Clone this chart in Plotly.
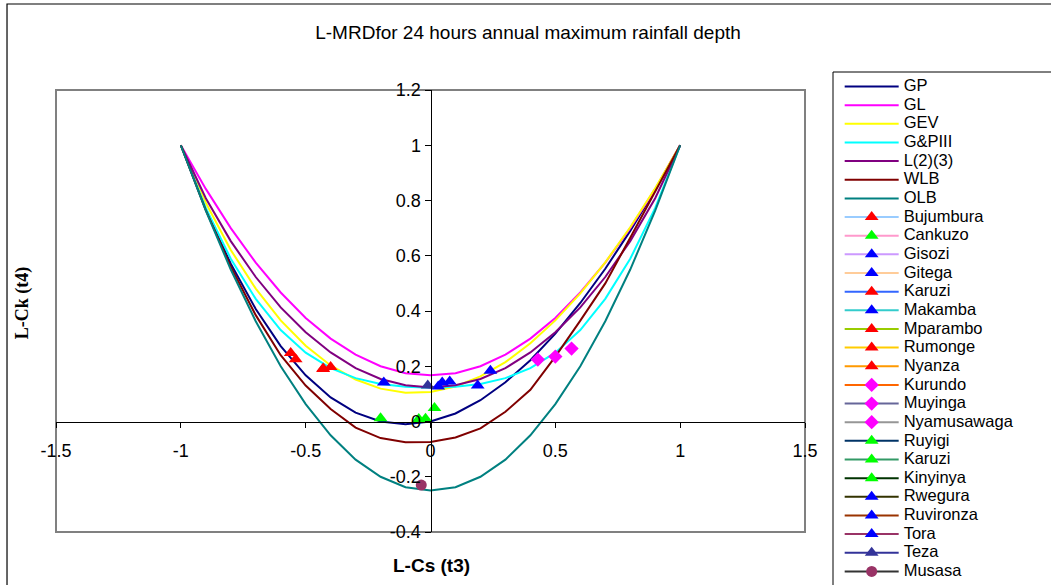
import plotly.graph_objects as go

# L-skewness grid for the theoretical curves
tau3 = [-1.0, -0.9, -0.8, -0.7, -0.6, -0.5, -0.4, -0.3, -0.2, -0.1, 0.0,
        0.1, 0.2, 0.3, 0.4, 0.5, 0.6, 0.7, 0.8, 0.9, 1.0]

# L-kurtosis of each distribution along the grid
gp = [1.000, 0.768, 0.571, 0.407, 0.273, 0.167, 0.087, 0.032, 0.000, -0.010, 0.000,
      0.029, 0.077, 0.142, 0.222, 0.318, 0.429, 0.553, 0.690, 0.839, 1.000]
gl = [1.000, 0.842, 0.700, 0.575, 0.467, 0.375, 0.300, 0.242, 0.200, 0.175, 0.167,
      0.175, 0.200, 0.242, 0.300, 0.375, 0.467, 0.575, 0.700, 0.842, 1.000]
gev = [1.000, 0.792, 0.621, 0.481, 0.366, 0.274, 0.203, 0.152, 0.119, 0.104, 0.107,
       0.127, 0.163, 0.215, 0.283, 0.366, 0.464, 0.576, 0.703, 0.844, 1.000]
gp3 = [1.000, 0.773, 0.589, 0.444, 0.331, 0.249, 0.193, 0.157, 0.136, 0.126, 0.122,
       0.126, 0.136, 0.157, 0.193, 0.249, 0.331, 0.444, 0.589, 0.773, 1.000]
ln3 = [1.000, 0.808, 0.653, 0.523, 0.413, 0.323, 0.250, 0.193, 0.154, 0.131, 0.123,
       0.131, 0.154, 0.193, 0.250, 0.323, 0.413, 0.523, 0.653, 0.808, 1.000]
wlb = [1.000, 0.765, 0.560, 0.385, 0.240, 0.130, 0.045, -0.022, -0.060, -0.075, -0.074,
       -0.058, -0.025, 0.035, 0.115, 0.235, 0.365, 0.500, 0.665, 0.830, 1.000]
olb = [1.000, 0.763, 0.550, 0.363, 0.200, 0.063, -0.050, -0.138, -0.200, -0.238, -0.250,
       -0.238, -0.200, -0.138, -0.050, 0.063, 0.200, 0.363, 0.550, 0.763, 1.000]

curve_names = ["GP", "GL", "GEV", "G&PIII", "L(2)(3)", "WLB", "OLB"]
curve_values = [gp, gl, gev, gp3, ln3, wlb, olb]
curve_colors = ["#000080", "#FF00FF", "#FFFF00", "#00FFFF", "#800080", "#800000", "#008080"]

# Sample L-moment ratios of the stations
stations = ["Bujumbura", "Cankuzo", "Gisozi", "Gitega", "Karuzi", "Makamba", "Mparambo",
            "Rumonge", "Nyanza", "Kurundo", "Muyinga", "Nyamusawaga", "Ruyigi", "Karuzi",
            "Kinyinya", "Rwegura", "Ruvironza", "Tora", "Teza", "Musasa"]
station_t3 = [-0.560, -0.200, -0.187, 0.031, -0.540, 0.047, -0.430,
              -0.400, -0.430, 0.430, 0.500, 0.565, -0.047, -0.020,
              0.016, 0.077, 0.189, 0.240, -0.011, -0.037]
station_t4 = [0.248, 0.012, 0.141, 0.127, 0.225, 0.141, 0.190,
              0.197, 0.192, 0.224, 0.235, 0.264, 0.009, 0.010,
              0.049, 0.145, 0.130, 0.184, 0.130, -0.230]
station_line = ["#99CCFF", "#FF99CC", "#CC99FF", "#FFCC99", "#3366FF", "#33CCCC", "#99CC00",
                "#FFCC00", "#FF9900", "#FF6600", "#666699", "#969696", "#003366", "#339966",
                "#003300", "#333300", "#993300", "#993366", "#333399", "#333333"]
station_marker = ["#FF0000", "#00FF00", "#0000FF", "#0000FF", "#FF0000", "#0000FF", "#FF0000",
                  "#FF0000", "#FF0000", "#FF00FF", "#FF00FF", "#FF00FF", "#00FF00", "#00FF00",
                  "#00FF00", "#0000FF", "#0000FF", "#0000FF", "#333399", "#993366"]
station_symbol = ["triangle-up"] * 9 + ["diamond"] * 3 + ["triangle-up"] * 7 + ["circle"]

x_ticks = [-1.5, -1.0, -0.5, 0.0, 0.5, 1.0, 1.5]
x_ticktext = ["-1.5", "-1", "-0.5", "0", "0.5", "1", "1.5"]
y_ticks = [-0.4, -0.2, 0.0, 0.2, 0.4, 0.6, 0.8, 1.0, 1.2]
y_ticktext = ["-0.4", "-0.2", "0", "0.2", "0.4", "0.6", "0.8", "1", "1.2"]

FONT = "Liberation Sans, Arial, sans-serif"

# The key is built from one single-row legend per series, stacked at a fixed
# row pitch inside one shared frame.
PLOT_TOP_PX, PLOT_BOTTOM_PX = 90.0, 532.0
KEY_TOP_PX, KEY_ROW_PX = 72.0, 18.65


def legend_label(text):
    return '<span style="font-size:16.5px">' + text + "</span>"


def legend_id(row):
    return "legend" if row == 0 else "legend%d" % (row + 1)


def row_top(row):
    top_px = KEY_TOP_PX + row * KEY_ROW_PX
    return (PLOT_BOTTOM_PX - top_px) / (PLOT_BOTTOM_PX - PLOT_TOP_PX)


fig = go.Figure()

row = 0
for name, vals, col in zip(curve_names, curve_values, curve_colors):
    fig.add_trace(go.Scatter(
        x=tau3, y=vals, mode="lines", name=legend_label(name),
        line=dict(color=col, width=2), legend=legend_id(row),
    ))
    row += 1

for i, name in enumerate(stations):
    size = 12 if station_symbol[i] == "triangle-up" else 11
    fig.add_trace(go.Scatter(
        x=[station_t3[i]], y=[station_t4[i]], mode="lines+markers",
        name=legend_label(name),
        line=dict(color=station_line[i], width=2),
        marker=dict(symbol=station_symbol[i], color=station_marker[i], size=size,
                    line=dict(width=0)),
        legend=legend_id(row),
    ))
    row += 1

n_rows = row

# outer chart frame, grey plot-area frame and the key's frame
fig.add_shape(type="rect", xref="paper", yref="paper",
              x0=-0.0654, x1=1.6, y0=-0.6, y1=1.1946,
              line=dict(color="black", width=1.2), layer="below")
fig.add_shape(type="rect", xref="paper", yref="paper",
              x0=0, x1=1, y0=0, y1=1,
              line=dict(color="#808080", width=2), layer="below")
fig.add_shape(type="rect", xref="paper", yref="paper",
              x0=1.0374, x1=1.6, y0=-0.3, y1=1.0407,
              line=dict(color="black", width=1), layer="below")

fig.add_annotation(text="<b>L-Cs (t3)</b>", xref="paper", yref="paper",
                   x=0.502, y=-0.075, showarrow=False, xanchor="center", yanchor="middle",
                   font=dict(family=FONT, size=19, color="black"))
fig.add_annotation(text="<b>L-Ck (t4)</b>", xref="paper", yref="paper",
                   x=-0.0454, y=0.52, showarrow=False, textangle=-90,
                   xanchor="center", yanchor="middle",
                   font=dict(family="Liberation Serif, Times New Roman, serif", size=18,
                             color="black"))

legend_common = dict(x=1.0463, xanchor="left", yanchor="top", borderwidth=0,
                     bgcolor="rgba(0,0,0,0)", itemwidth=54, tracegroupgap=0,
                     font=dict(family=FONT, size=12, color="black"))
legends = {legend_id(r): dict(y=row_top(r), **legend_common) for r in range(n_rows)}

fig.update_layout(
    width=1051, height=585,
    margin=dict(l=56, r=246, t=90, b=53, autoexpand=False),
    paper_bgcolor="white", plot_bgcolor="white",
    title=dict(text="L-MRDfor 24 hours annual maximum rainfall depth",
               x=0.5024, xref="container", xanchor="center",
               y=1 - 32 / 585, yref="container", yanchor="middle",
               font=dict(family=FONT, size=19, color="black")),
    xaxis=dict(range=[-1.5, 1.5], tickvals=x_ticks, ticktext=x_ticktext,
               anchor="free", position=0.25, showline=True, linecolor="black", linewidth=1,
               ticks="outside", ticklen=5, tickcolor="black", showgrid=False, zeroline=False,
               ticklabelstandoff=8,
               tickfont=dict(family=FONT, size=18, color="black")),
    yaxis=dict(range=[-0.4, 1.2], tickvals=y_ticks, ticktext=y_ticktext,
               anchor="free", position=0.5, showline=True, linecolor="black", linewidth=1,
               ticks="outside", ticklen=6, tickcolor="black", showgrid=False, zeroline=False,
               tickfont=dict(family=FONT, size=18, color="black")),
    showlegend=True,
    **legends,
)

fig.write_html("out.html")
